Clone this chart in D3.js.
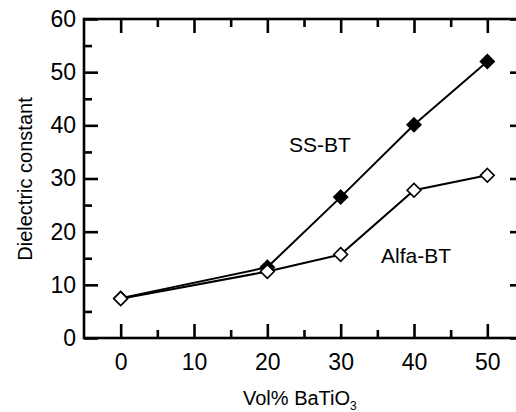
<!DOCTYPE html>
<html>
<head>
<meta charset="utf-8">
<script src="https://cdn.jsdelivr.net/npm/d3@7"></script>
<style>
  body { margin: 0; background: #fff; }
  text { font-family: "Liberation Sans", Arial, sans-serif; fill: #000; }
</style>
</head>
<body>
<svg id="chart" width="516" height="412"></svg>
<script>
// data
var volPct = [0, 20, 30, 40, 50];
var ssBT = [7.5, 13.3, 26.5, 40.1, 52.0];
var alfaBT = [7.4, 12.5, 15.7, 27.8, 30.6];

var xMajor = [0, 10, 20, 30, 40, 50];
var xMinor = [5, 15, 25, 35, 45];
var yMajor = [0, 10, 20, 30, 40, 50, 60];
var yMinor = [5, 15, 25, 35, 45, 55];

var svg = d3.select("#chart");

// scales
var x = d3.scaleLinear().domain([-5, 55]).range([84, 524]);
var y = d3.scaleLinear().domain([0, 60]).range([338, 19]);

var axisW = 2.6;

// axes - ticks point inward on every side
function styleAxis(g) {
  g.select(".domain").remove();
  g.selectAll(".tick line").attr("stroke", "#000").attr("stroke-width", axisW);
  g.selectAll(".tick text").style("font-size", "23px").style("font-family", "Liberation Sans, Arial, sans-serif");
}

svg.append("g").attr("transform", "translate(0," + y(0) + ")")
  .call(d3.axisBottom(x).tickValues(xMajor).tickSize(-14).tickPadding(16).tickFormat(d3.format("d")))
  .call(styleAxis);
svg.append("g").attr("transform", "translate(0," + y(0) + ")")
  .call(d3.axisBottom(x).tickValues(xMinor).tickSize(-8).tickFormat(""))
  .call(styleAxis);

svg.append("g").attr("transform", "translate(0," + y(60) + ")")
  .call(d3.axisTop(x).tickValues(xMajor).tickSize(-14).tickFormat(""))
  .call(styleAxis);
svg.append("g").attr("transform", "translate(0," + y(60) + ")")
  .call(d3.axisTop(x).tickValues(xMinor).tickSize(-8).tickFormat(""))
  .call(styleAxis);

svg.append("g").attr("transform", "translate(" + x(-5) + ",0)")
  .call(d3.axisLeft(y).tickValues(yMajor).tickSize(-14).tickPadding(8).tickFormat(d3.format("d")))
  .call(styleAxis);
svg.append("g").attr("transform", "translate(" + x(-5) + ",0)")
  .call(d3.axisLeft(y).tickValues(yMinor).tickSize(-8).tickFormat(""))
  .call(styleAxis);

svg.append("g").attr("transform", "translate(" + x(55) + ",0)")
  .call(d3.axisRight(y).tickValues(yMajor).tickSize(-14).tickFormat(""))
  .call(styleAxis);
svg.append("g").attr("transform", "translate(" + x(55) + ",0)")
  .call(d3.axisRight(y).tickValues(yMinor).tickSize(-8).tickFormat(""))
  .call(styleAxis);

// frame
svg.append("rect")
  .attr("x", x(-5)).attr("y", y(60))
  .attr("width", x(55) - x(-5)).attr("height", y(0) - y(60))
  .attr("fill", "none").attr("stroke", "#000").attr("stroke-width", axisW);

// series
var line = d3.line().x(function(d) { return x(d[0]); }).y(function(d) { return y(d[1]); });
var diamond = d3.symbol().type(d3.symbolDiamond2).size(120);

function drawSeries(vals, fill) {
  var pts = volPct.map(function(v, i) { return [v, vals[i]]; });
  svg.append("path").datum(pts)
    .attr("d", line).attr("fill", "none").attr("stroke", "#000").attr("stroke-width", 2);
  svg.append("g").selectAll("path").data(pts).enter().append("path")
    .attr("d", diamond)
    .attr("transform", function(d) { return "translate(" + x(d[0]) + "," + y(d[1]) + ")"; })
    .attr("fill", fill).attr("stroke", "#000").attr("stroke-width", 1.6);
}
drawSeries(ssBT, "#000");
drawSeries(alfaBT, "#fff");

// labels
svg.append("text").attr("x", 289).attr("y", 152).style("font-size", "21px").text("SS-BT");
svg.append("text").attr("x", 381).attr("y", 263).style("font-size", "21px").text("Alfa-BT");

var xt = svg.append("text").attr("x", 243).attr("y", 405).style("font-size", "20px");
xt.append("tspan").text("Vol% BaTiO");
xt.append("tspan").attr("dy", 5).style("font-size", "12px").text("3");

svg.append("text")
  .attr("transform", "translate(32,179) rotate(-90)")
  .attr("text-anchor", "middle")
  .style("font-size", "20px")
  .text("Dielectric constant");
</script>
</body>
</html>
